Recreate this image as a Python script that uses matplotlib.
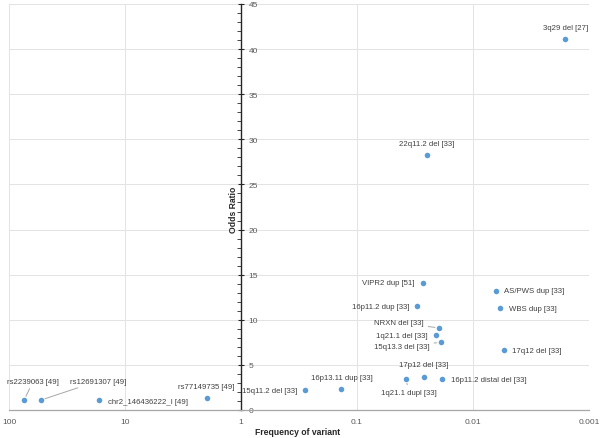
import matplotlib
matplotlib.use("Agg")
import matplotlib.pyplot as plt
from matplotlib.ticker import FixedLocator, MultipleLocator, FuncFormatter

plt.rcParams['font.family'] = ['Liberation Sans Narrow', 'Liberation Sans', 'DejaVu Sans']

# DATA
labels = ['rs2239063 [49]', 'rs12691307 [49]', 'chr2_146436222_I [49]', 'rs77149735 [49]',
          '15q11.2 del [33]', '16p13.11 dup [33]', '1q21.1 dupl [33]', '17p12 del [33]',
          '16p11.2 distal del [33]', '17q12 del [33]', '15q13.3 del [33]', '1q21.1 del [33]',
          'NRXN del [33]', '16p11.2 dup [33]', 'VIPR2 dup [51]', 'AS/PWS dup [33]',
          'WBS dup [33]', '22q11.2 del [33]', '3q29 del [27]']
freq = [74, 53, 16.7, 1.96,
        0.28, 0.137, 0.0378, 0.0264,
        0.0185, 0.0054, 0.0189, 0.0208,
        0.0196, 0.0304, 0.027, 0.0063,
        0.0058, 0.025, 0.0016]
odds = [1.1, 1.1, 1.1, 1.3,
        2.2, 2.3, 3.4, 3.7,
        3.4, 6.6, 7.5, 8.3,
        9.1, 11.5, 14.1, 13.2,
        11.3, 28.3, 41.1]
x_ticks = [100, 10, 1, 0.1, 0.01, 0.001]
x_tick_labels = ['100', '10', '1', '0.1', '0.01', '0.001']

# label placement: (dx px, dy px, ha, leader line)
layout = [(9, 19, 'center', True), (57, 19, 'center', True), (9, -1, 'left', False), (-1, 12, 'center', False),
          (-8, 0, 'right', False), (1, 12, 'center', False), (3, -13, 'center', True), (0, 12, 'center', False),
          (9, 0, 'left', False), (8, 0, 'left', False), (-11, -4, 'right', True), (-8, 0, 'right', False),
          (-15, 5, 'right', True), (-7, 0, 'right', False), (-8, 0, 'right', False), (8, 0, 'left', False),
          (9, 0, 'left', False), (0, 11, 'center', False), (0, 12, 'center', False)]

fig = plt.figure(figsize=(6, 4.39), dpi=100)
ax = fig.add_axes([9/600, 1-411/439, 580/600, 406/439])

ax.set_xscale('log')
ax.set_xlim(100, 0.001)
ax.set_ylim(0, 45)

ax.scatter(freq, odds, s=16, color='#5B9BD5', zorder=3, linewidths=0)

for lab, fx, oy, (dx, dy, ha, line) in zip(labels, freq, odds, layout):
    props = dict(arrowstyle='-', color='#a6a6a6', lw=0.7, shrinkA=1, shrinkB=3) if line else None
    ax.annotate(lab, (fx, oy), xytext=(dx, dy), textcoords='offset pixels',
                ha=ha, va='center', fontsize=5.6, color='#404040', arrowprops=props)

# grid
ax.xaxis.set_major_locator(FixedLocator(x_ticks))
ax.xaxis.set_minor_locator(FixedLocator([]))
ax.xaxis.set_major_formatter(FuncFormatter(lambda v, p: x_tick_labels[x_ticks.index(v)] if v in x_ticks else ''))
ax.yaxis.set_major_locator(MultipleLocator(5))
ax.yaxis.set_minor_locator(MultipleLocator(1))
ax.grid(True, which='major', color='#e3e3e3', lw=0.7)
ax.set_axisbelow(True)

# spines: y axis crosses at 1
for s in ['top', 'left']:
    ax.spines[s].set_visible(False)
ax.spines['right'].set_position(('data', 1))
ax.spines['right'].set_color('#262626')
ax.spines['right'].set_linewidth(1.0)
ax.spines['bottom'].set_color('#a6a6a6')
ax.spines['bottom'].set_linewidth(0.9)
ax.yaxis.tick_right()
ax.tick_params(axis='y', which='major', direction='inout', length=5, width=0.8, color='#262626',
               labelsize=6, labelcolor='#595959', pad=3)
ax.tick_params(axis='y', which='minor', direction='in', length=3, width=0.6, color='#262626')
ax.tick_params(axis='x', which='major', length=0, labelsize=6, labelcolor='#595959', pad=6)

fig.text(234/600, 1-210/439, 'Odds Ratio', rotation=90, ha='center', va='center',
         fontsize=6.2, fontweight='bold', color='#262626')
fig.text(298/600, 1-433/439, 'Frequency of variant', ha='center', va='center',
         fontsize=6.2, fontweight='bold', color='#262626')

fig.savefig("out.png", dpi=100)
